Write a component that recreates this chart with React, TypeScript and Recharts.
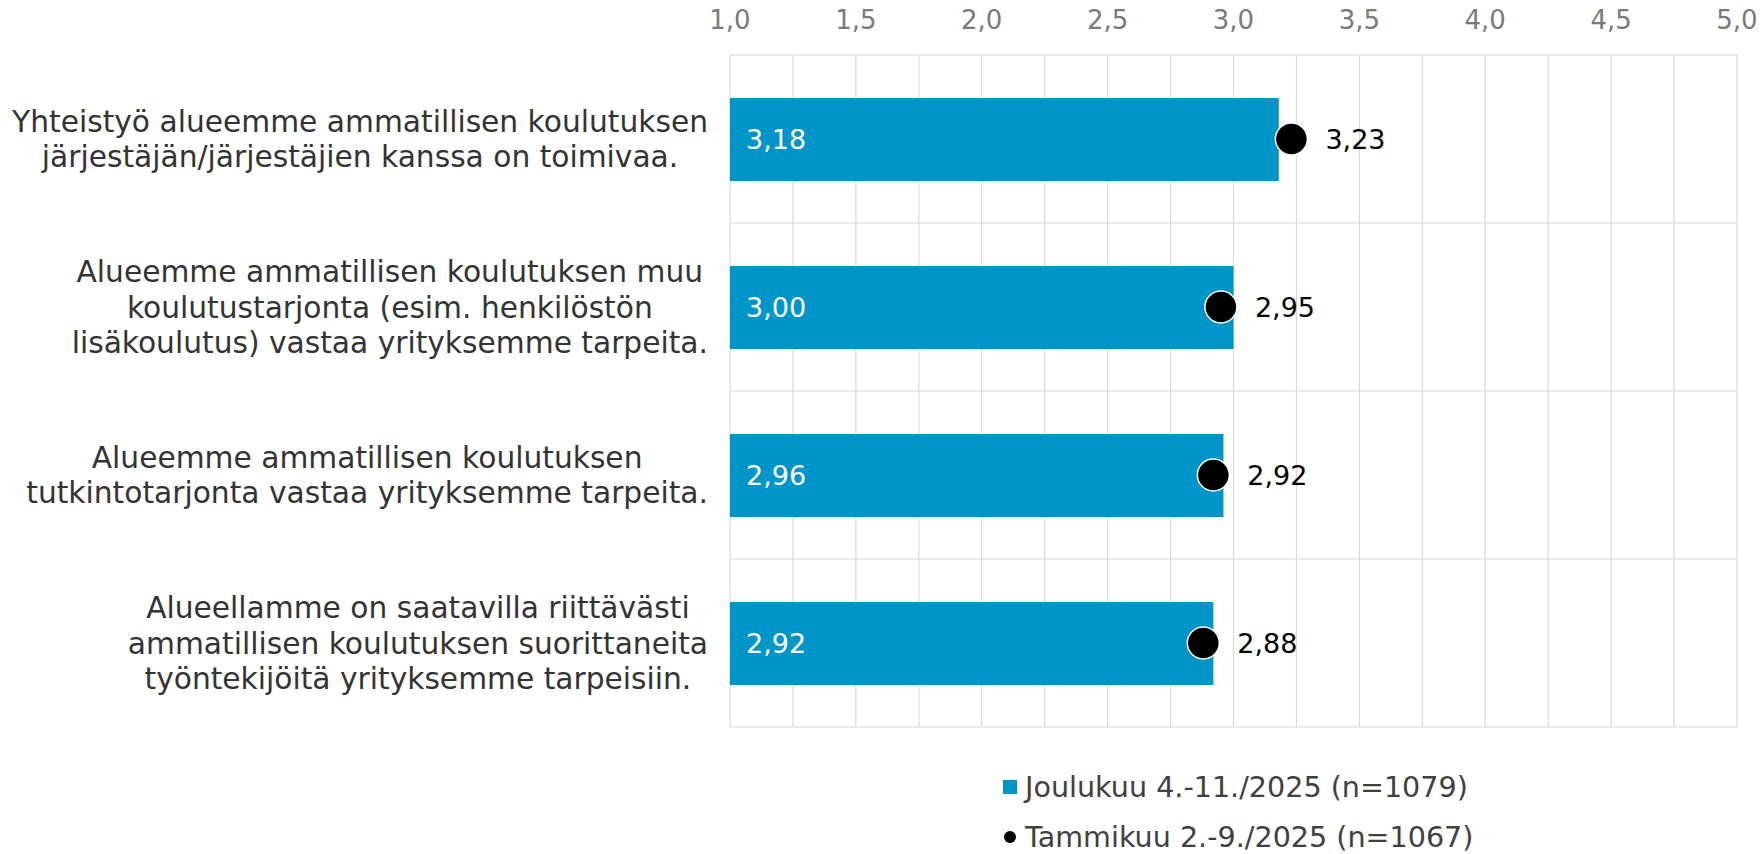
import React from "react"
import {
  ComposedChart,
  Bar,
  Line,
  XAxis,
  YAxis,
  CartesianGrid,
  LabelList,
  Legend,
} from "recharts"

// kysymykset (rivinvaihdot kuten kuvassa)
const categories = [
  "Yhteistyö alueemme ammatillisen koulutuksen\njärjestäjän/järjestäjien kanssa on toimivaa.",
  "Alueemme ammatillisen koulutuksen muu\nkoulutustarjonta (esim. henkilöstön\nlisäkoulutus) vastaa yrityksemme tarpeita.",
  "Alueemme ammatillisen koulutuksen\ntutkintotarjonta vastaa yrityksemme tarpeita.",
  "Alueellamme on saatavilla riittävästi\nammatillisen koulutuksen suorittaneita\ntyöntekijöitä yrityksemme tarpeisiin.",
]

const joulukuu = [3.18, 3.0, 2.96, 2.92]
const tammikuu = [3.23, 2.95, 2.92, 2.88]

const xTicks = [1, 1.5, 2, 2.5, 3, 3.5, 4, 4.5, 5]
const gridValues = [1, 1.25, 1.5, 1.75, 2, 2.25, 2.5, 2.75, 3, 3.25, 3.5, 3.75, 4, 4.25, 4.5, 4.75, 5]

const seriesNames = ["Joulukuu 4.-11./2025 (n=1079)", "Tammikuu 2.-9./2025 (n=1067)"]

const BAR_COLOR = "#0095c9"
const FONT = "'DejaVu Sans', Verdana, sans-serif"

const fmt = (v: any) => (typeof v === "number" ? v.toFixed(2).replace(".", ",") : v)

// tekstin leveys canvasilla, jotta rivit voidaan keskittää lohkona
let ctx: CanvasRenderingContext2D | null = null
function textWidth(s: string, size: number) {
  if (!ctx) ctx = document.createElement("canvas").getContext("2d")
  if (!ctx) return s.length * size * 0.55
  ctx.font = `${size}px 'DejaVu Sans'`
  return ctx.measureText(s).width
}

const CategoryTick = ({ x, y, payload }: any) => {
  const size = 29.7
  const lh = 35.5
  const lines = String(payload.value).split("\n")
  const maxW = Math.max(...lines.map((l) => textWidth(l, size)))
  const cx = x - maxW / 2
  const startY = y - ((lines.length - 1) * lh) / 2
  return (
    <text x={cx} y={startY} textAnchor="middle" fill="#333333" fontSize={size} fontFamily={FONT}>
      {lines.map((l, i) => (
        <tspan key={i} x={cx} y={startY + i * lh} dy="0.36em">
          {l}
        </tspan>
      ))}
    </text>
  )
}

const LegendContent = () => (
  <div style={{ fontFamily: FONT, fontSize: 28.6, color: "#404040", lineHeight: "50px" }}>
    <div style={{ display: "flex", alignItems: "center" }}>
      <span style={{ width: 14, height: 14, background: BAR_COLOR, marginRight: 8 }} />
      {seriesNames[0]}
    </div>
    <div style={{ display: "flex", alignItems: "center" }}>
      <span style={{ width: 12, height: 12, borderRadius: "50%", background: "#000", marginLeft: 1, marginRight: 9 }} />
      {seriesNames[1]}
    </div>
  </div>
)

export default function App() {
  const data = categories.map((c, i) => ({
    name: c,
    joulukuu: joulukuu[i],
    tammikuu: tammikuu[i],
  }))

  return (
    <div style={{ position: "absolute", left: 0, top: 0, width: 1762, height: 854, background: "#fff" }}>
      <ComposedChart
        width={1762}
        height={854}
        data={data}
        layout="vertical"
        margin={{ top: 0, right: 25, bottom: 27, left: 0 }}
      >
        <CartesianGrid
          stroke="#d9d9d9"
          strokeWidth={1.2}
          verticalCoordinatesGenerator={({ xAxis, offset }: any) => {
            const s = xAxis?.scale
            if (typeof s === "function") return gridValues.map((v) => s(v))
            return gridValues.map((v) => offset.left + ((v - 1) / 4) * offset.width)
          }}
          horizontalCoordinatesGenerator={({ offset }: any) =>
            categories.concat([""]).map((_, i) => offset.top + (i * offset.height) / categories.length)
          }
        />
        <XAxis
          type="number"
          orientation="top"
          domain={[1, 5]}
          ticks={xTicks}
          height={55}
          tickSize={0}
          tickMargin={26}
          axisLine={false}
          tickLine={false}
          tickFormatter={(v) => v.toFixed(1).replace(".", ",")}
          tick={{ fill: "#7a7a7a", fontSize: 26, fontFamily: FONT }}
        />
        <YAxis
          type="category"
          dataKey="name"
          width={730}
          tickSize={0}
          tickMargin={22}
          axisLine={false}
          tickLine={false}
          interval={0}
          tick={<CategoryTick />}
        />
        <Legend
          verticalAlign="bottom"
          content={<LegendContent />}
          wrapperStyle={{ position: "absolute", left: 1003, top: 762, width: 600 }}
        />
        <Bar dataKey="joulukuu" name={seriesNames[0]} fill={BAR_COLOR} barSize={83} isAnimationActive={false}>
          <LabelList
            dataKey="joulukuu"
            position="insideLeft"
            offset={16}
            formatter={fmt}
            fill="#ffffff"
            fontSize={27}
            fontFamily={FONT}
          />
        </Bar>
        <Line
          dataKey="tammikuu"
          name={seriesNames[1]}
          stroke="none"
          dot={{ r: 16, fill: "#000000", stroke: "#ffffff", strokeWidth: 1.5 }}
          activeDot={false}
          isAnimationActive={false}
        >
          <LabelList
            dataKey="tammikuu"
            position="right"
            offset={34}
            formatter={fmt}
            fill="#000000"
            fontSize={27}
            fontFamily={FONT}
          />
        </Line>
      </ComposedChart>
    </div>
  )
}
